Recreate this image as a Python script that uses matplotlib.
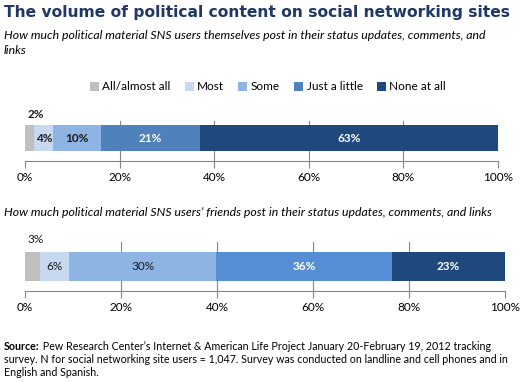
import numpy as np
import matplotlib
matplotlib.use("Agg")
import matplotlib.pyplot as plt
from matplotlib.patches import Patch

plt.rcParams['font.family'] = ['Lato', 'DejaVu Sans']

categories = ['All/almost all', 'Most', 'Some', 'Just a little', 'None at all']
self_post = [2, 4, 10, 21, 63]
friends_post = [3, 6, 30, 36, 23]
tick_vals = [0, 20, 40, 60, 80, 100]

colors1 = ['#BFBFBF', '#C6D9F1', '#8DB4E2', '#4F81BD', '#1F497D']
colors2 = ['#BFBFBF', '#C6D9F1', '#8DB4E2', '#558ED5', '#1F497D']
txt_colors = ['#1a1a1a', '#1a1a1a', '#1a1a1a', 'white', 'white']

W, H = 526, 382
fig = plt.figure(figsize=(W / 100, H / 100), dpi=100)


def px(x, y):
    return x / W, 1 - y / H


def stacked(ax, vals, colors, ycen, hgt, ytop, bold_dark):
    vals = np.array(vals, dtype=float)
    shares = vals / vals.sum() * 100  # 100% stacked
    left = 0
    for i, (v, s) in enumerate(zip(vals, shares)):
        ax.barh(ycen, s, left=left, height=hgt, color=colors[i], zorder=3)
        if i == 0:
            ax.text(left + 0.6, ytop, f'{v:.0f}%', ha='left', va='center',
                    fontsize=8.5, fontweight='bold' if bold_dark else 'normal',
                    color='#1a1a1a', clip_on=False)
        else:
            wt = 'bold' if (bold_dark or i >= 3) else 'normal'
            ax.text(left + s / 2, ycen, f'{v:.0f}%', ha='center', va='center',
                    fontsize=8.5, fontweight=wt, color=txt_colors[i])
        left += s
    ax.set_xlim(0, 100)
    ax.set_xticks(tick_vals)
    ax.set_xticklabels([f'{t}%' for t in tick_vals], fontsize=8.5)
    ax.tick_params(axis='x', length=5, width=0.8, color='#868686', pad=3)
    ax.set_yticks([])
    for sp in ['top', 'right', 'left']:
        ax.spines[sp].set_visible(False)
    ax.spines['bottom'].set_color('#868686')
    ax.spines['bottom'].set_linewidth(0.8)
    for t in tick_vals[1:-1]:
        ax.axvline(t, color='#868686', lw=0.8, zorder=1)
    ax.patch.set_alpha(0)


# chart 1
x0, y0 = px(25, 161)
ax1 = fig.add_axes([x0, y0, 473 / W, 40 / H])
ax1.set_ylim(0, 40)
stacked(ax1, self_post, colors1, 23, 26, 46, True)

# chart 2
x0, y0 = px(25, 291)
ax2 = fig.add_axes([x0, y0, 480 / W, 49 / H])
ax2.set_ylim(0, 49)
stacked(ax2, friends_post, colors2, 24.5, 29, 52, False)

# texts
fig.text(*px(4, 12), 'The volume of political content on social networking sites',
         fontsize=11.2, fontweight='bold', color='#1F3864', family='DejaVu Sans',
         va='center', ha='left')
fig.text(*px(4, 43), 'How much political material SNS users themselves post in their status updates, comments, and\nlinks',
         fontsize=8.8, style='italic', va='center', ha='left', linespacing=1.35)
fig.text(*px(4, 212), 'How much political material SNS users\u2019 friends post in their status updates, comments, and links',
         fontsize=8.8, style='italic', va='center', ha='left')

handles = [Patch(facecolor=c, edgecolor='none') for c in colors1]
fig.legend(handles, categories, loc='center', bbox_to_anchor=px(268, 87), ncol=5,
           frameon=False, fontsize=8.5, handlelength=0.75, handleheight=0.75,
           handletextpad=0.3, columnspacing=1.2, borderaxespad=0)

src = fig.text(*px(4, 346), 'Source:', fontsize=7.7, fontweight='bold',
               va='center', ha='left')
ax1.annotate(' Pew Research Center\u2019s Internet & American Life Project January 20-February 19, 2012 tracking',
             xy=(1, 0.5), xycoords=src, va='center', ha='left', fontsize=7.7,
             annotation_clip=False)
fig.text(*px(4, 366), 'survey. N for social networking site users = 1,047. Survey was conducted on landline and cell phones and in'
         '\nEnglish and Spanish.',
         fontsize=7.7, va='center', ha='left', linespacing=1.25)

fig.savefig('out.png', dpi=100)
